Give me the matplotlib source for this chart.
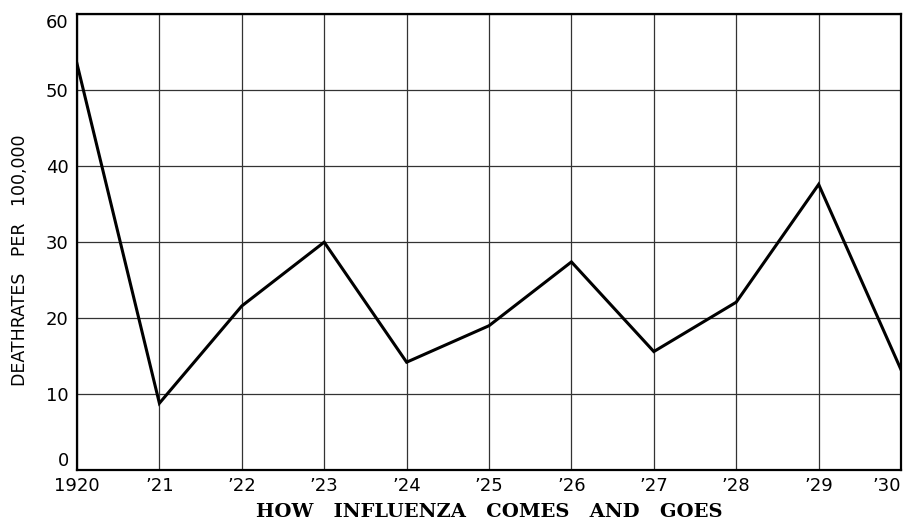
import matplotlib.pyplot as plt

years = [1920, 1921, 1922, 1923, 1924, 1925, 1926, 1927, 1928, 1929, 1930]
deathrates = [53.5, 8.8, 21.6, 30.0, 14.2, 19.0, 27.4, 15.6, 22.1, 37.6, 13.2]
year_labels = ['1920', '\u201921', '\u201922', '\u201923', '\u201924', '\u201925',
               '\u201926', '\u201927', '\u201928', '\u201929', '\u201930']
y_ticks = [0, 10, 20, 30, 40, 50, 60]
y_labels = ['0', '10', '20', '30', '40', '50', '60']

fig = plt.figure(figsize=(9.12, 5.27), dpi=100)
ax = fig.add_axes([0.0844, 0.108, 0.9036, 0.865])

ax.plot(years, deathrates, color='black', linewidth=2.2, solid_joinstyle='miter')

ax.set_xlim(1920, 1930)
ax.set_ylim(0, 60)
ax.set_xticks(years)
ax.set_xticklabels(year_labels, fontsize=13)
ax.set_yticks(y_ticks)
ax.set_yticklabels(y_labels, fontsize=13)
ax.tick_params(axis='x', length=0, pad=5)
ax.tick_params(axis='y', length=0, pad=6)
# last year label sits inside the right edge as in the original
ax.get_xticklabels()[-1].set_ha('right')
# bottom and top y labels are kept inside the frame
ax.get_yticklabels()[0].set_va('bottom')
ax.get_yticklabels()[-1].set_va('top')
ax.grid(True, color='#333333', linewidth=0.9)
ax.set_axisbelow(True)
for s in ax.spines.values():
    s.set_linewidth(1.6)

ax.set_ylabel('DEATHRATES   PER   100,000', fontsize=12.5)
ax.yaxis.set_label_coords(-0.058, 0.46)
fig.text(0.537, 0.028, 'HOW   INFLUENZA   COMES   AND   GOES', ha='center', va='center',
         fontsize=14, fontweight='bold', family='DejaVu Serif')

plt.savefig('out.png', dpi=100)
